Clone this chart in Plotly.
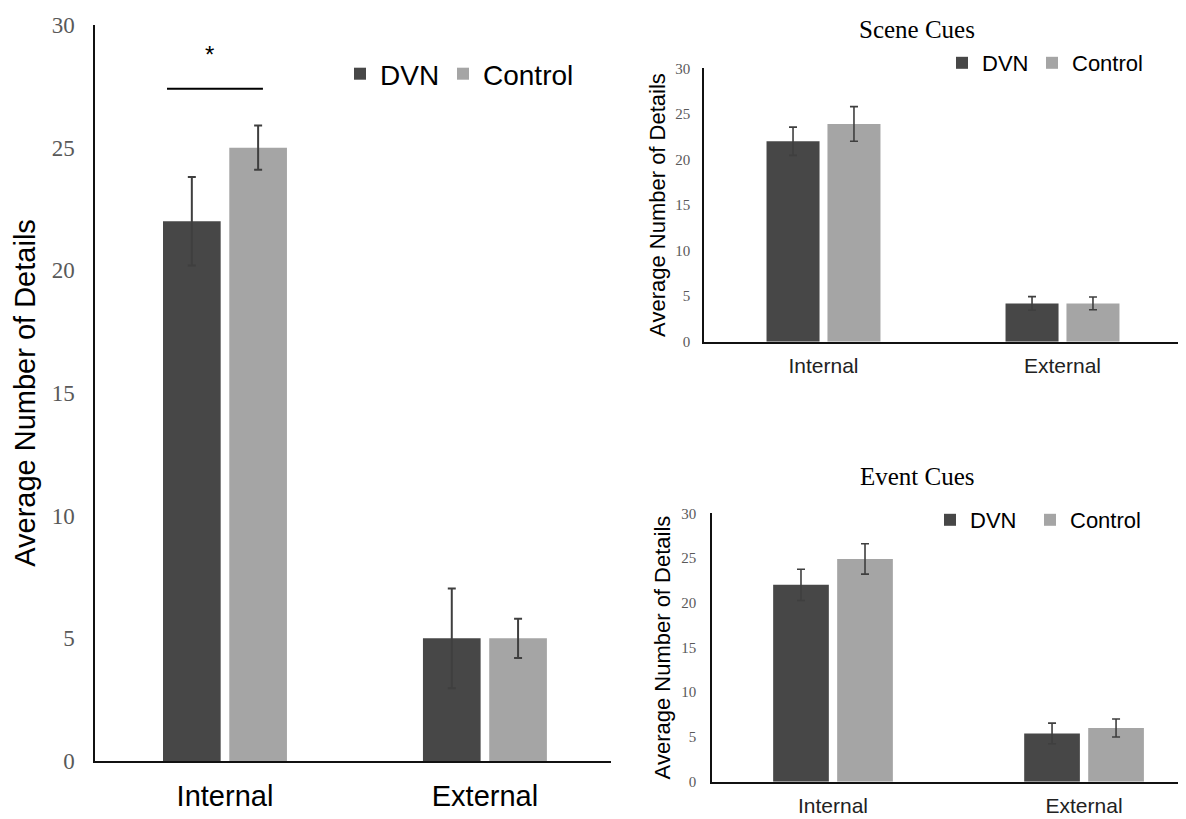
import plotly.graph_objects as go

# ---------------- data ----------------
categories = ["Internal", "External"]
group_names = ["DVN", "Control"]

overall_dvn = [22.0, 5.0]
overall_dvn_err = [1.8, 2.03]
overall_ctrl = [25.0, 5.0]
overall_ctrl_err = [0.9, 0.8]

scene_dvn = [22.0, 4.2]
scene_dvn_err = [1.55, 0.75]
scene_ctrl = [23.9, 4.2]
scene_ctrl_err = [1.9, 0.7]

event_dvn = [22.0, 5.4]
event_dvn_err = [1.75, 1.15]
event_ctrl = [24.9, 6.0]
event_ctrl_err = [1.7, 1.0]

y_ticks = [0, 5, 10, 15, 20, 25, 30]
panel_titles = ["Scene Cues", "Event Cues"]
y_title = "Average Number of Details"

# ---------------- styling ----------------
W, H = 1186, 819
PAGE_OFFSET = 8  # default body margin of the html page
SANS = "Liberation Sans, Arial, sans-serif"
SERIF = "Liberation Serif, Times New Roman, serif"
C_DVN = "#474747"
C_CTRL = "#a5a5a5"
C_ERR = "#3f3f3f"
TICK_GREY = "#595959"


def px_x(p):
    return min(1.0, (p - PAGE_OFFSET) / W)


def px_y(p):
    return 1 - (p - PAGE_OFFSET) / H


fig = go.Figure()

panels = [
    # (dvn, dvn_err, ctrl, ctrl_err, xaxis, yaxis, legend, err thickness, legend width of first item)
    (overall_dvn, overall_dvn_err, overall_ctrl, overall_ctrl_err, "x", "y", "legend", 2, 58),
    (scene_dvn, scene_dvn_err, scene_ctrl, scene_ctrl_err, "x2", "y2", "legend2", 1.6, 45),
    (event_dvn, event_dvn_err, event_ctrl, event_ctrl_err, "x3", "y3", "legend3", 1.6, 55),
]

for dvn, dvn_e, ctrl, ctrl_e, xa, ya, lg, th, lw in panels:
    for name, vals, errs, col, lwid in [
        (group_names[0], dvn, dvn_e, C_DVN, lw),
        (group_names[1], ctrl, ctrl_e, C_CTRL, None),
    ]:
        fig.add_trace(go.Bar(
            x=categories, y=vals, name=name,
            marker=dict(color=col, line=dict(width=0)),
            error_y=dict(type="data", array=errs, visible=True,
                         color=C_ERR, thickness=th, width=4),
            xaxis=xa, yaxis=ya, legend=lg, legendwidth=lwid,
        ))

axis_common = dict(showgrid=False, zeroline=False, showline=True, automargin=False,
                   linecolor="#111111", ticks="", fixedrange=True)

fig.update_layout(
    xaxis=dict(domain=[px_x(95), px_x(611)], range=[-0.5, 1.485],
               tickfont=dict(family=SANS, size=29, color="#000000"),
               ticklabelstandoff=8, linewidth=2, anchor="y", **axis_common),
    yaxis=dict(domain=[px_y(761), px_y(25)], range=[0, 30], tickvals=y_ticks,
               tickfont=dict(family=SERIF, size=23, color=TICK_GREY),
               ticklabelstandoff=14, linewidth=1.5, anchor="x",
               title=dict(text=y_title, font=dict(family=SANS, size=29, color="#000000"),
                          standoff=8),
               **axis_common),
    xaxis2=dict(domain=[px_x(704), px_x(1182)], range=[-0.5, 1.5],
                tickfont=dict(family=SANS, size=21, color="#222222"),
                ticklabelstandoff=4, linewidth=1.5, anchor="y2", **axis_common),
    yaxis2=dict(domain=[px_y(341.7), px_y(68.3)], range=[0, 30], tickvals=y_ticks,
                tickfont=dict(family=SERIF, size=15, color=TICK_GREY),
                ticklabelstandoff=9, linewidth=1.5, anchor="x2",
                title=dict(text=y_title, font=dict(family=SANS, size=22, color="#000000"),
                           standoff=4),
                **axis_common),
    xaxis3=dict(domain=[px_x(712), 1.0], range=[-0.482, 1.438],
                tickfont=dict(family=SANS, size=21, color="#222222"),
                ticklabelstandoff=4, linewidth=1.5, anchor="y3", **axis_common),
    yaxis3=dict(domain=[px_y(781.7), px_y(513.3)], range=[0, 30], tickvals=y_ticks,
                tickfont=dict(family=SERIF, size=15, color=TICK_GREY),
                ticklabelstandoff=11, linewidth=1.5, anchor="x3",
                title=dict(text=y_title, font=dict(family=SANS, size=22, color="#000000"),
                           standoff=5),
                **axis_common),
)

leg_common = dict(orientation="h", xanchor="left", yanchor="middle",
                  bgcolor="rgba(0,0,0,0)", traceorder="normal",
                  itemclick=False, itemdoubleclick=False)

fig.update_layout(
    legend=dict(x=px_x(340), y=px_y(74),
                font=dict(family=SANS, size=28, color="#000000"), **leg_common),
    legend2=dict(x=px_x(942), y=px_y(63),
                 font=dict(family=SANS, size=22, color="#000000"), **leg_common),
    legend3=dict(x=px_x(930), y=px_y(520),
                 font=dict(family=SANS, size=22, color="#000000"), **leg_common),
)

# panel titles
fig.add_annotation(text=panel_titles[0], x=px_x(917), y=px_y(29), xref="paper", yref="paper",
                   showarrow=False, font=dict(family=SERIF, size=25, color="#000000"),
                   xanchor="center", yanchor="middle")
fig.add_annotation(text=panel_titles[1], x=px_x(917), y=px_y(476), xref="paper", yref="paper",
                   showarrow=False, font=dict(family=SERIF, size=25, color="#000000"),
                   xanchor="center", yanchor="middle")

# significance marker (main panel, Internal)
sig_y = 27.4
fig.add_shape(type="line", xref="x", yref="y", x0=-0.223, x1=0.146, y0=sig_y, y1=sig_y,
              line=dict(color="#000000", width=2))
fig.add_annotation(text="*", x=-0.06, y=28.8, xref="x", yref="y", showarrow=False,
                   font=dict(family=SANS, size=24, color="#000000"),
                   xanchor="center", yanchor="middle")

fig.update_layout(
    width=W, height=H,
    margin=dict(l=0, r=0, t=0, b=0, autoexpand=False),
    paper_bgcolor="#ffffff", plot_bgcolor="#ffffff",
    barmode="group", bargap=0.49, bargroupgap=0.13,
    showlegend=True,
)

fig.write_html("out.html")
